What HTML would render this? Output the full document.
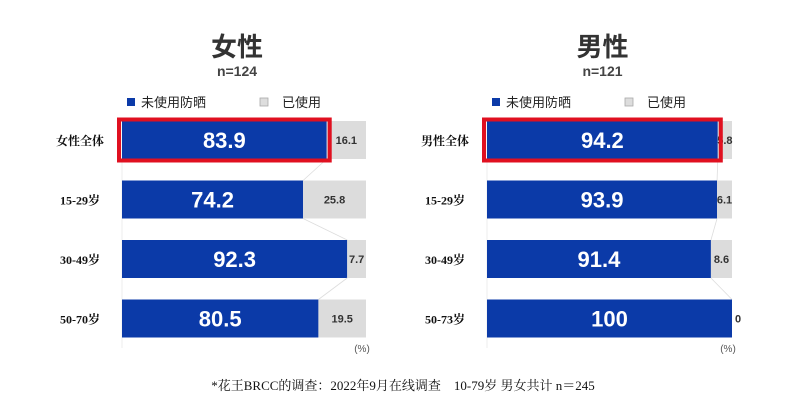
<!DOCTYPE html>
<html><head><meta charset="utf-8"><style>
body{margin:0;background:#fff;width:800px;height:413px;overflow:hidden}
svg{font-family:"Liberation Sans","Noto Sans CJK SC",sans-serif}
</style></head><body>
<svg id="c" width="800" height="413" viewBox="0 0 800 413"></svg>
<script>
const femaleCats=["女性全体","15-29岁","30-49岁","50-70岁"];
const femaleUnused=[83.9,74.2,92.3,80.5];
const femaleUsed=[16.1,25.8,7.7,19.5];
const maleCats=["男性全体","15-29岁","30-49岁","50-73岁"];
const maleUnused=[94.2,93.9,91.4,100];
const maleUsed=[5.8,6.1,8.6,0];
const svg=document.getElementById('c');
const NS="http://www.w3.org/2000/svg";
function mk(t,a,txt){const e=document.createElementNS(NS,t);for(const k in a)e.setAttribute(k,a[k]);if(txt!=null)e.textContent=txt;svg.appendChild(e);return e;}
const rowY=i=>121+i*59.5, barH=38;
function panel(x0,w,title,n,cats,un,us,name){
  const xs=v=>x0+v/100*w;
  let e=mk('text',{x:x0+w/2-7,y:56,'text-anchor':'middle','font-size':26,'font-weight':'bold',fill:'#333'},title);
  
  e=mk('text',{x:x0+w/2-7,y:76,'text-anchor':'middle','font-size':14,'font-weight':'bold',fill:'#444'},n);
  
  e=mk('rect',{x:x0+5,y:98,width:8,height:8,fill:'#0b3aa8'});
  
  e=mk('text',{x:x0+19,y:107,'font-size':13,fill:'#222'},'未使用防晒');
  
  e=mk('rect',{x:x0+138,y:98,width:8,height:8,fill:'#ddd',stroke:'#aaa','stroke-width':0.8});
  
  e=mk('text',{x:x0+160,y:107,'font-size':13,fill:'#222'},'已使用');
  
  mk('line',{x1:x0,y1:118,x2:x0,y2:348,stroke:'#eee'});
  cats.forEach((c,i)=>{
    const y=rowY(i);
    let t=mk('text',{x:x0-42,y:y+barH/2+5,'text-anchor':'middle','font-size':12,'font-weight':'bold',fill:'#111','font-family':'"Liberation Serif","Noto Serif CJK SC",serif'},c);
    
    let b=mk('rect',{x:x0,y:y,width:xs(un[i])-x0,height:barH,fill:'#0b3aa8'});
    
    let g=mk('rect',{x:xs(un[i]),y:y,width:xs(100)-xs(un[i]),height:barH,fill:'#dcdcdc'});
    
    if(i<cats.length-1){mk('line',{x1:xs(un[i]),y1:y+barH,x2:xs(un[i+1]),y2:rowY(i+1),stroke:'#ddd','stroke-width':0.8});}
    t=mk('text',{x:(x0+xs(un[i]))/2,y:y+barH/2+8,'text-anchor':'middle','font-size':22,'font-weight':'bold',fill:'#fff'},String(un[i]));
    
    const gx=us[i]>=5?(xs(un[i])+xs(100))/2:xs(100)+6;
    t=mk('text',{x:gx,y:y+barH/2+4,'text-anchor':'middle','font-size':11,'font-weight':'bold',fill:'#333'},String(us[i]));
    
    if(i===0){let r=mk('rect',{x:x0-3,y:y-1.5,width:xs(un[i])-x0+6,height:barH+3,fill:'none',stroke:'#e01020','stroke-width':4});
      }
  });
  e=mk('text',{x:xs(100)-4,y:352,'text-anchor':'middle','font-size':10,fill:'#555'},'(%)');
  
}
panel(122,244,'女性','n=124',femaleCats,femaleUnused,femaleUsed,'female');
panel(487,245,'男性','n=121',maleCats,maleUnused,maleUsed,'male');
let f=mk('text',{x:403,y:390,'text-anchor':'middle','font-size':13,fill:'#111','font-family':'"Liberation Serif","Noto Serif CJK SC",serif'},'*花王BRCC的调查：2022年9月在线调查　10-79岁 男女共计 n＝245');

</script>
</body></html>
